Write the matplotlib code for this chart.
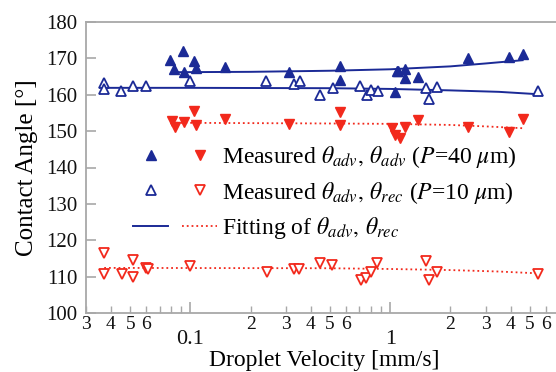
import numpy as np
import matplotlib
matplotlib.use("Agg")
import matplotlib.pyplot as plt
from matplotlib.ticker import FixedLocator, FixedFormatter
from matplotlib.legend_handler import HandlerTuple

plt.rcParams['font.family'] = ['Liberation Serif', 'DejaVu Serif']
plt.rcParams['mathtext.fontset'] = 'stix'

BLUE = '#1b2a96'
RED = '#f2291c'

# ---- data: P=40 um, advancing (filled blue up-triangles)
v40_adv = [0.0794, 0.0919, 0.0829, 0.0933, 0.104, 0.1066, 0.1485, 0.310, 0.558, 0.562,
           1.06, 1.08, 1.09, 1.19, 1.19, 1.37, 2.45, 3.91, 4.61]
a40_adv = [169.6, 171.9, 167.1, 166.2, 169.4, 167.3, 167.5, 166.2, 168.0, 164.1,
           160.7, 166.4, 166.6, 167.1, 164.5, 165.0, 170.0, 170.5, 171.2]
# ---- P=40 um, receding (filled red down-triangles)
v40_rec = [0.0804, 0.0835, 0.0925, 0.104, 0.107, 0.1485, 0.310, 0.558, 0.562,
           1.02, 1.06, 1.12, 1.19, 1.37, 2.45, 3.91, 4.61]
a40_rec = [152.7, 151.1, 152.5, 155.5, 151.6, 153.4, 152.0, 155.2, 151.6,
           150.8, 148.9, 148.2, 151.1, 153.1, 151.1, 149.7, 153.4]
# ---- P=10 um, advancing (open blue up-triangles)
v10_adv = [0.0369, 0.0369, 0.0449, 0.0517, 0.0598, 0.100, 0.240, 0.329, 0.352, 0.447,
           0.515, 0.708, 0.765, 0.800, 0.864, 1.51, 1.56, 1.71, 5.47]
a10_adv = [163.2, 161.6, 161.1, 162.5, 162.5, 163.7, 163.9, 163.0, 163.9, 159.8,
           161.8, 162.5, 159.8, 161.3, 161.1, 161.8, 158.7, 162.2, 161.1]
# ---- P=10 um, receding (open red down-triangles)
v10_rec = [0.0369, 0.0369, 0.0453, 0.0517, 0.0517, 0.0598, 0.0610, 0.100, 0.242, 0.329,
           0.348, 0.443, 0.511, 0.714, 0.759, 0.800, 0.858, 1.51, 1.56, 1.71, 5.47]
a10_rec = [116.4, 110.6, 110.8, 114.6, 110.0, 112.4, 112.0, 113.0, 111.2, 112.1,
           112.1, 113.7, 113.2, 109.1, 109.6, 111.2, 113.7, 114.2, 109.1, 111.2, 110.8]

# ---- fitted curves
fv40_adv = [0.084, 0.2, 0.5, 1.0, 2.0, 3.0, 4.6]
fa40_adv = [166.2, 166.3, 166.6, 167.0, 167.8, 168.6, 169.5]
fv10_adv = [0.037, 0.1, 0.5, 1.0, 2.0, 3.5, 5.3]
fa10_adv = [161.9, 161.9, 161.8, 161.6, 161.2, 160.8, 160.2]
fv40_rec = [0.08, 0.5, 1.0, 2.0, 3.0, 4.6]
fa40_rec = [152.3, 152.1, 152.0, 151.7, 151.3, 150.8]
fv10_rec = [0.037, 0.5, 1.0, 2.0, 3.5, 5.5]
fa10_rec = [112.4, 112.3, 112.1, 111.8, 111.4, 110.9]

# ---- ticks
major_x = [0.1, 1.0]
major_x_labels = ['0.1', '1']
minor_x = [0.03, 0.04, 0.05, 0.06, 0.07, 0.08, 0.09,
           0.2, 0.3, 0.4, 0.5, 0.6, 0.7, 0.8, 0.9,
           2, 3, 4, 5, 6, 7]
minor_x_labels = ['3', '4', '5', '6', '', '', '',
                  '2', '3', '4', '5', '6', '', '', '',
                  '2', '3', '4', '5', '6', '']
y_ticks = [100, 110, 120, 130, 140, 150, 160, 170, 180]

W, H = 556, 372
fig = plt.figure(figsize=(W / 100, H / 100), dpi=100)
ax = fig.add_axes([86 / W, (H - 313) / H, (562 - 86) / W, (313 - 22) / H])
ax.set_xscale('log')
ax.set_xlim(0.03, 7.24)
ax.set_ylim(100, 180)

ms = 7.5
l1, = ax.plot(fv40_adv, fa40_adv, '-', color=BLUE, lw=1.4, zorder=2)
ax.plot(fv10_adv, fa10_adv, '-', color=BLUE, lw=1.4, zorder=2)
l2, = ax.plot(fv40_rec, fa40_rec, ':', color=RED, lw=1.3, zorder=2)
ax.plot(fv10_rec, fa10_rec, ':', color=RED, lw=1.3, zorder=2)

m1, = ax.plot(v40_adv, a40_adv, '^', ls='none', ms=ms, color=BLUE, zorder=3)
m2, = ax.plot(v40_rec, a40_rec, 'v', ls='none', ms=ms, color=RED, zorder=3)
m3, = ax.plot(v10_adv, a10_adv, '^', ls='none', ms=ms, mfc='white', mec=BLUE, mew=1.3, zorder=3)
m4, = ax.plot(v10_rec, a10_rec, 'v', ls='none', ms=ms, mfc='white', mec=RED, mew=1.3, zorder=3)

ax.xaxis.set_major_locator(FixedLocator(major_x))
ax.xaxis.set_major_formatter(FixedFormatter(major_x_labels))
ax.xaxis.set_minor_locator(FixedLocator(minor_x))
ax.xaxis.set_minor_formatter(FixedFormatter(minor_x_labels))
ax.set_yticks(y_ticks)

GRAY = '#a8a8a8'
for s in ax.spines.values():
    s.set_color(GRAY)
    s.set_linewidth(1.3)
ax.tick_params(axis='both', which='both', direction='in', color=GRAY, labelcolor='#111111')
ax.tick_params(axis='x', which='major', length=8, width=1.2, labelsize=16, pad=12)
ax.tick_params(axis='x', which='minor', length=5, width=1.0, labelsize=14, pad=2)
ax.tick_params(axis='y', which='major', length=7, width=1.2, labelsize=15, pad=6)
ax.tick_params(axis='y', which='minor', length=0)
ax.tick_params(top=False, right=False, which='both')

ax.set_xlabel('Droplet Velocity [mm/s]', fontsize=17, labelpad=1)
ax.set_ylabel('Contact Angle [°]', fontsize=18, labelpad=6)

leg = ax.legend([(m1, m2), (m3, m4), (l1, l2)],
                [r'Measured $\theta_{adv},\,\theta_{adv}$ ($P$=40 $\mu$m)',
                 r'Measured $\theta_{adv},\,\theta_{rec}$ ($P$=10 $\mu$m)',
                 r'Fitting of $\theta_{adv},\,\theta_{rec}$'],
                handler_map={tuple: HandlerTuple(ndivide=None, pad=0.6)},
                loc='upper left', bbox_to_anchor=(0.099, 0.58),
                frameon=False, fontsize=17, handlelength=3.56, handletextpad=0.2,
                labelspacing=0.4, borderpad=0, borderaxespad=0)

fig.savefig('out.png', dpi=100)
